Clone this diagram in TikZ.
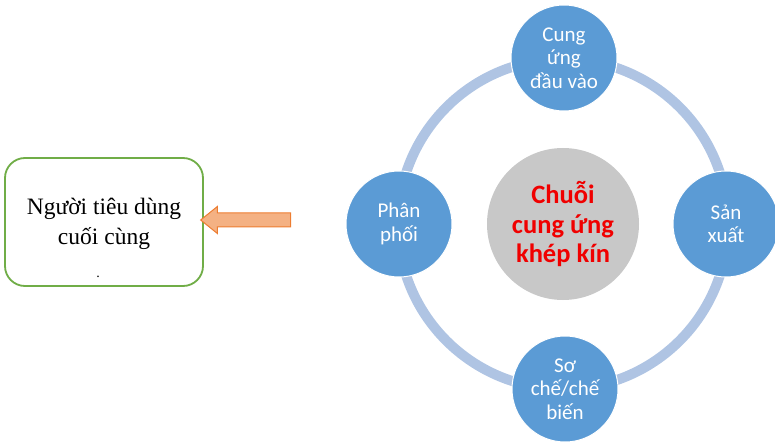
\documentclass[tikz,border=0pt]{standalone}
\usepackage{fontspec}
\setmainfont{Liberation Serif}
\newfontfamily\calfont{Carlito}
\usetikzlibrary{shapes.arrows}
\definecolor{ringblue}{HTML}{AFC4E3}
\definecolor{nodeblue}{HTML}{5B9BD5}
\definecolor{centergray}{HTML}{C8C8C8}
\definecolor{boxgreen}{HTML}{70AD47}
\definecolor{arrowfill}{HTML}{F4B183}
\definecolor{arroworange}{HTML}{ED7D31}
\definecolor{chainred}{HTML}{F00000}
\tikzset{
  stage/.style={circle, fill=nodeblue, draw=white, line width=1pt, minimum size=106pt, inner sep=0pt,
    text=white, align=center, font=\calfont\fontsize{21}{23.5}\selectfont},
  hub/.style={circle, fill=centergray, minimum size=152pt, inner sep=0pt, align=center,
    text=chainred, font=\calfont\bfseries\fontsize{26.5}{29.5}\selectfont},
  consumer/.style={draw=boxgreen, line width=1.8pt, rounded corners=20pt, minimum width=198pt, minimum height=128pt,
    fill=white},
  consumertext/.style={anchor=base, inner sep=0pt, font=\fontsize{23.5}{29}\selectfont},
  ring/.style={draw=ringblue, line width=10pt}
}
\begin{document}
\begin{tikzpicture}[x=1pt,y=-1pt]
\useasboundingbox (0,0) rectangle (775,443);
\coordinate (c) at (563,224);
\draw[ring] (c) circle[radius=165];
\node[hub] (hub) at (c) {Chuỗi\\cung ứng\\khép kín};
\node[stage] (top) at (564,58) {Cung\\ứng\\đầu vào};
\node[stage] (right) at (726,224) {Sản\\xuất};
\node[stage] (bottom) at (565,389) {Sơ\\chế/chế\\biến};
\node[stage] (left) at (399,224) {Phân\\phối};
\node[consumer] (box) at (104,222) {};
\node[consumertext] (line1) at (104,215) {Người tiêu dùng};
\node[consumertext] (line2) at (104,245) {cuối cùng};
\node[consumertext, font=\fontsize{14}{14}\selectfont] (dot) at (98,277) {.};
\node[single arrow, shape border rotate=180, fill=arrowfill, draw=arroworange, line width=1pt,
  minimum height=90pt, inner sep=6.5pt, single arrow head extend=6.5pt, single arrow tip angle=78]
  (arr) at (250,220) {};
\end{tikzpicture}
\end{document}
